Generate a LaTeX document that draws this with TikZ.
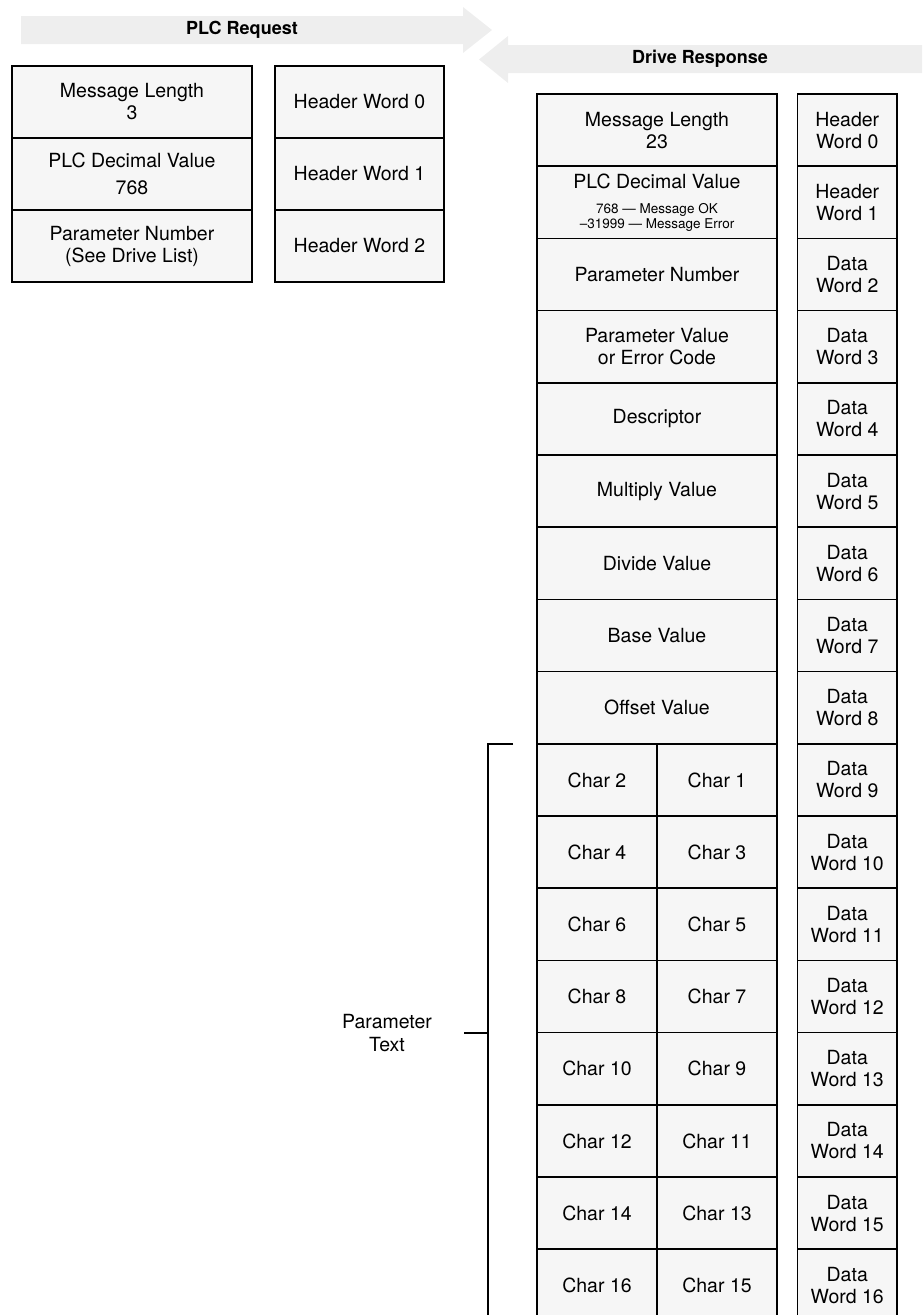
\documentclass[tikz,border=0pt]{standalone}
\usepackage{fontspec}
\setmainfont{TeX Gyre Heros}
\usetikzlibrary{positioning}

\definecolor{bandgray}{HTML}{EEEEEE}
\definecolor{cellgray}{HTML}{F6F6F6}

\begin{document}
\begin{tikzpicture}[x=1pt, y=-1pt,
    cell/.style={draw, line width=1.6pt, fill=cellgray, inner sep=0pt, align=center, font=\fontsize{19.5}{22}\selectfont},
    banner/.style={font=\fontsize{18}{20}\selectfont\bfseries},
    lbl/.style={align=center, inner sep=0pt, font=\fontsize{19.5}{23}\selectfont},
    brace line/.style={line width=1.6pt}]
    \useasboundingbox (0,0) rectangle (922,1315);
    \clip (0,0) rectangle (922,1315);

    % direction arrows
    \fill[bandgray] (21,16) -- (463,16) -- (463,7) -- (492,30) -- (463,53) -- (463,44) -- (21,44) -- cycle;
    \fill[bandgray] (922,45) -- (508,45) -- (508,36) -- (479,59.5) -- (508,83) -- (508,73) -- (922,73) -- cycle;
    \node[banner] (req-title) at (242,30) {PLC Request};
    \node[banner] (resp-title) at (700,59) {Drive Response};

    % PLC request block
    \node[cell, minimum width=240pt, minimum height=72pt] (req-0) at (132,102) {Message Length\\3};
    \node[cell, minimum width=240pt, minimum height=72pt] (req-1) at (132,174) {PLC Decimal Value\\[5pt]768};
    \node[cell, minimum width=240pt, minimum height=72pt] (req-2) at (132,246) {Parameter Number\\(See Drive List)};
    \foreach \i in {0,1,2}
        \node[cell, minimum width=169pt, minimum height=72pt] (req-word-\i) at (359.5,{102+72*\i}) {Header Word \i};

    % drive response block
    \foreach \i/\txt in {0/{Message Length\\23}, 2/{Parameter Number}, 3/{Parameter Value\\or Error Code}, 4/Descriptor, 5/{Multiply Value}, 6/{Divide Value}, 7/{Base Value}, 8/{Offset Value}}
        \node[cell, minimum width=240pt, minimum height=72.2pt] (resp-\i) at (657,{130.1+72.2*\i}) {\txt};
    \node[cell, minimum width=240pt, minimum height=72.2pt] (resp-1) at (657,202.3) {PLC Decimal Value\\[3pt]{\fontsize{13.5}{15}\selectfont 768 — Message OK}\\[-7pt]{\fontsize{13.5}{15}\selectfont –31999 — Message Error}};
    \foreach \i in {9,...,16} {
        \pgfmathtruncatemacro\hi{2*(\i-8)}
        \pgfmathtruncatemacro\lo{\hi-1}
        \node[cell, minimum width=120pt, minimum height=72.2pt] (char-\hi) at (597,{130.1+72.2*\i}) {Char \hi};
        \node[cell, minimum width=120pt, minimum height=72.2pt] (char-\lo) at (717,{130.1+72.2*\i}) {Char \lo};
    }
    \foreach \i in {0,1}
        \node[cell, minimum width=99.5pt, minimum height=72.2pt] (resp-word-\i) at (847.25,{130.1+72.2*\i}) {Header\\Word \i};
    \foreach \i in {2,...,16}
        \node[cell, minimum width=99.5pt, minimum height=72.2pt] (resp-word-\i) at (847.25,{130.1+72.2*\i}) {Data\\Word \i};

    % parameter text bracket
    \coordinate (brk-top) at (513,743.8);
    \coordinate (brk-bot) at (488,1330);
    \coordinate (brk-mid) at (488,1033);
    \coordinate (tick-end) at (464,1033);
    \draw[brace line] (brk-top) -| (brk-bot);
    \draw[brace line] (tick-end) -- (brk-mid);
    \node[lbl] (param-text) at (387,1033) {Parameter\\Text};
\end{tikzpicture}
\end{document}
